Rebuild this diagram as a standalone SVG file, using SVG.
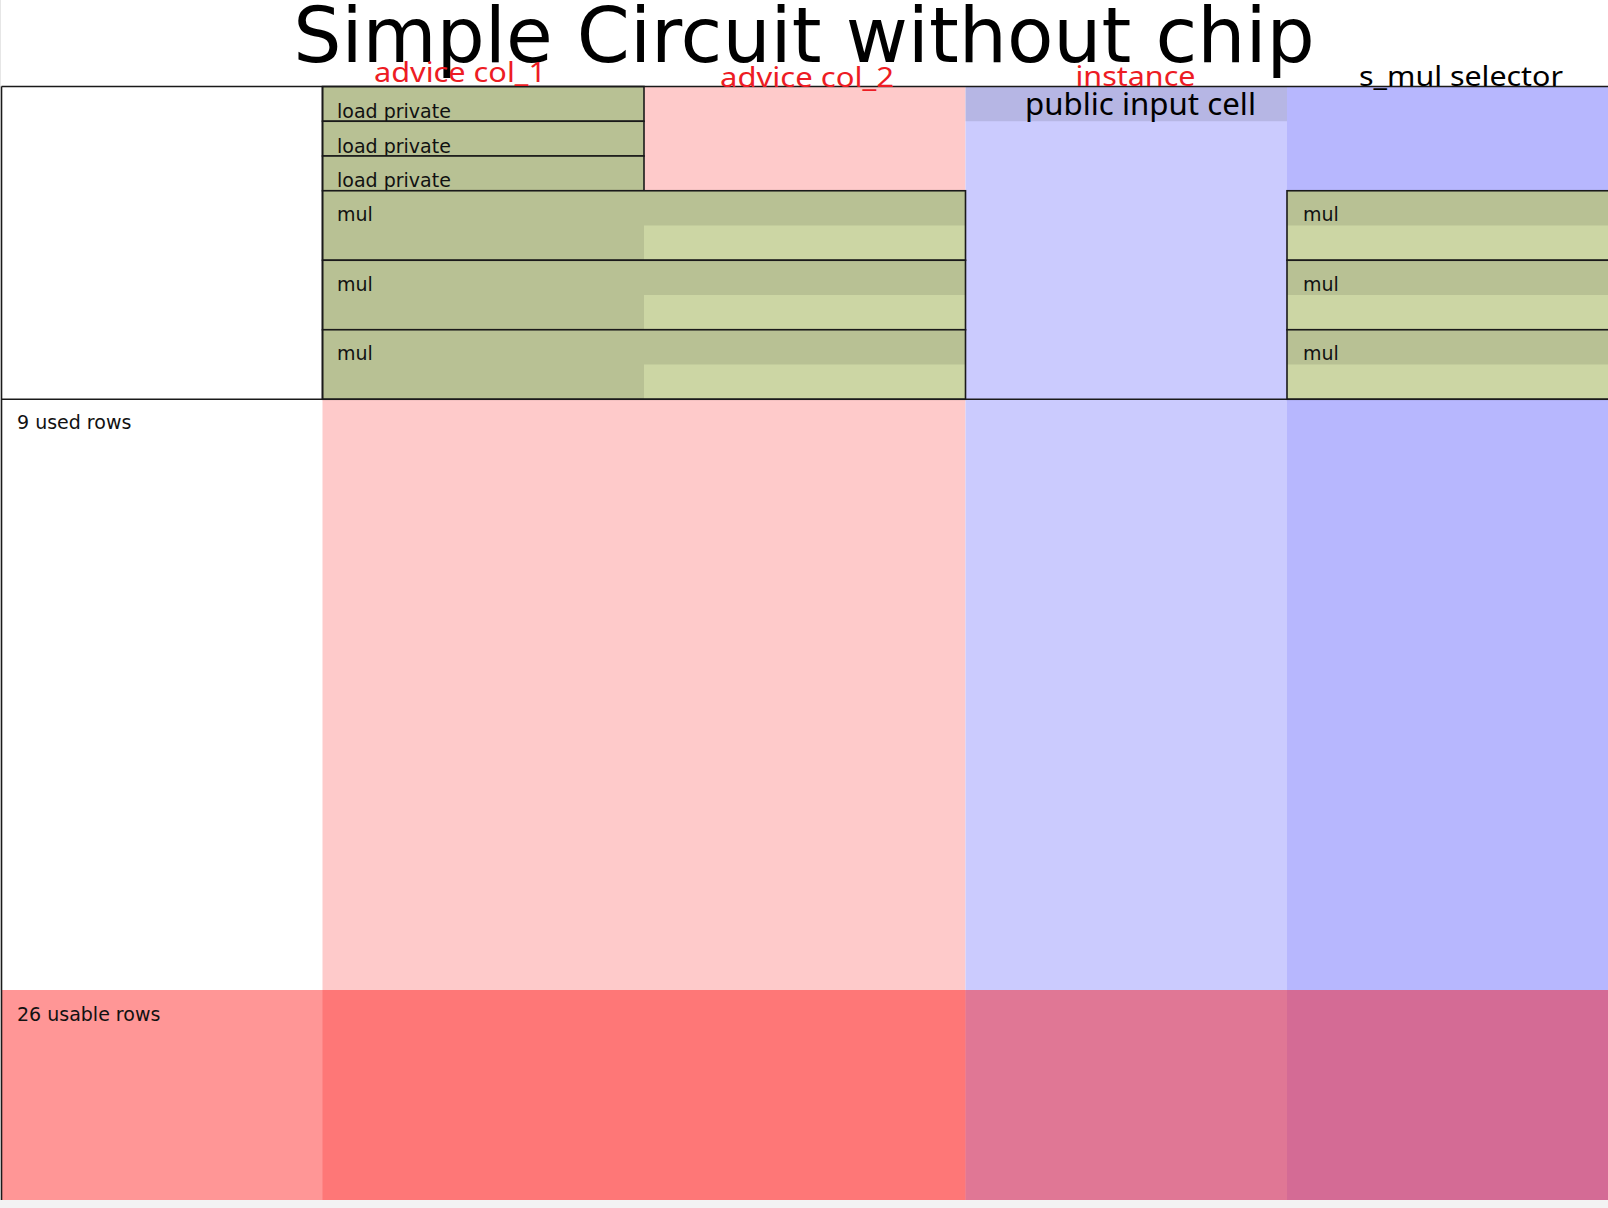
<svg xmlns="http://www.w3.org/2000/svg" width="1608" height="1208" viewBox="0 0 1608 1208">
<style>
.lbl{font-family:"DejaVu Sans",sans-serif;font-size:19px;fill:#111}
.hdr{font-family:"Noto Sans","Open Sans",sans-serif;font-size:28px;fill:#ed1c24}
.hdrk{font-family:"Noto Sans","Open Sans",sans-serif;fill:#000}
.box{fill:none;stroke:#1a1a1a;stroke-width:1.6}
.lt{fill:#ccd6a4}
.dk{fill:#b8c194}
.ln{stroke:#1a1a1a;stroke-width:1.6;fill:none}
</style>
<rect x="0" y="0" width="1608" height="1208" fill="#ffffff"/>
<rect x="0" y="1200" width="1608" height="8" fill="#f3f3f3"/>
<rect x="0" y="0" width="1" height="87" fill="#e6e6e6"/>

<g id="columns">
<rect id="col-advice" x="322.5" y="86.5" width="643" height="1113.5" fill="#fecaca"/>
<rect id="col-instance" x="965.5" y="86.5" width="321.5" height="1113.5" fill="#cbcbfe"/>
<rect id="col-selector" x="1287" y="86.5" width="321" height="1113.5" fill="#b7b7fe"/>
</g>

<g id="usable-rows">
<rect x="1.5" y="990" width="1606.5" height="210" fill="#ff0000" fill-opacity="0.41"/>
<text class="lbl" x="17" y="1021">26 usable rows</text>
</g>

<g id="public-input-cell">
<rect x="965.5" y="86.5" width="321.5" height="34.75" fill="#000" fill-opacity="0.1"/>
<text class="hdrk" x="1025" y="115" font-size="30" textLength="231" lengthAdjust="spacingAndGlyphs">public input cell</text>
</g>

<g id="load-private-1">
<rect class="dk" x="322.5" y="86.5" width="321.5" height="34.75"/>
<rect class="box" x="322.5" y="86.5" width="321.5" height="34.75"/>
<text class="lbl" x="337" y="118">load private</text>
</g>
<g id="load-private-2">
<rect class="dk" x="322.5" y="121.25" width="321.5" height="34.75"/>
<rect class="box" x="322.5" y="121.25" width="321.5" height="34.75"/>
<text class="lbl" x="337" y="152.5">load private</text>
</g>
<g id="load-private-3">
<rect class="dk" x="322.5" y="156" width="321.5" height="34.75"/>
<rect class="box" x="322.5" y="156" width="321.5" height="34.75"/>
<text class="lbl" x="337" y="187">load private</text>
</g>

<g id="mul-1">
<rect class="lt" x="322.5" y="190.75" width="643" height="69.5"/>
<rect class="dk" x="322.5" y="190.75" width="321.5" height="69.5"/>
<rect class="dk" x="644" y="190.75" width="321.5" height="34.75"/>
<rect class="box" x="322.5" y="190.75" width="643" height="69.5"/>
<text class="lbl" x="337" y="221">mul</text>
</g>
<g id="mul-2">
<rect class="lt" x="322.5" y="260.25" width="643" height="69.5"/>
<rect class="dk" x="322.5" y="260.25" width="321.5" height="69.5"/>
<rect class="dk" x="644" y="260.25" width="321.5" height="34.75"/>
<rect class="box" x="322.5" y="260.25" width="643" height="69.5"/>
<text class="lbl" x="337" y="290.5">mul</text>
</g>
<g id="mul-3">
<rect class="lt" x="322.5" y="329.75" width="643" height="69.5"/>
<rect class="dk" x="322.5" y="329.75" width="321.5" height="69.5"/>
<rect class="dk" x="644" y="329.75" width="321.5" height="34.75"/>
<rect class="box" x="322.5" y="329.75" width="643" height="69.5"/>
<text class="lbl" x="337" y="360">mul</text>
</g>

<g id="sel-mul-1">
<rect class="lt" x="1287" y="190.75" width="330" height="69.5"/>
<rect class="dk" x="1287" y="190.75" width="330" height="34.75"/>
<rect class="box" x="1287" y="190.75" width="330" height="69.5"/>
<text class="lbl" x="1303" y="221">mul</text>
</g>
<g id="sel-mul-2">
<rect class="lt" x="1287" y="260.25" width="330" height="69.5"/>
<rect class="dk" x="1287" y="260.25" width="330" height="34.75"/>
<rect class="box" x="1287" y="260.25" width="330" height="69.5"/>
<text class="lbl" x="1303" y="290.5">mul</text>
</g>
<g id="sel-mul-3">
<rect class="lt" x="1287" y="329.75" width="330" height="69.5"/>
<rect class="dk" x="1287" y="329.75" width="330" height="34.75"/>
<rect class="box" x="1287" y="329.75" width="330" height="69.5"/>
<text class="lbl" x="1303" y="360">mul</text>
</g>

<g id="frame">
<line class="ln" x1="1.5" y1="86.5" x2="1608" y2="86.5"/>
<line class="ln" x1="1.5" y1="86.5" x2="1.5" y2="1200"/>
<line class="ln" x1="1.5" y1="399.25" x2="1608" y2="399.25"/>
<line class="ln" x1="322.5" y1="86.5" x2="322.5" y2="399.25"/>
</g>

<g id="used-rows">
<text class="lbl" x="17" y="428.5">9 used rows</text>
</g>

<g id="title">
<text x="804" y="62" text-anchor="middle" font-family="DejaVu Sans, sans-serif" font-size="76" fill="#000">Simple Circuit without chip</text>
</g>

<g id="headers">
<text class="hdr" x="374" y="81.7" textLength="172" lengthAdjust="spacingAndGlyphs">advice col_1</text>
<text class="hdr" x="720" y="86.5" textLength="174" lengthAdjust="spacingAndGlyphs">advice col_2</text>
<text class="hdr" x="1075.5" y="85.5" textLength="120" lengthAdjust="spacingAndGlyphs">instance</text>
<text class="hdrk" x="1359" y="85.5" font-size="28" textLength="204" lengthAdjust="spacingAndGlyphs">s_mul selector</text>
</g>

<g id="connectors"/>
</svg>
